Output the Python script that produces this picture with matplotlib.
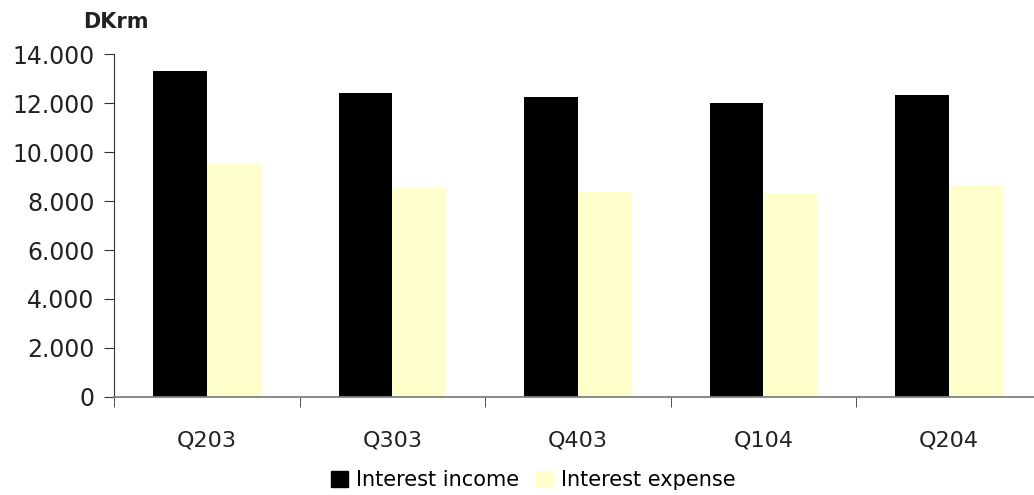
import numpy as np
import matplotlib
matplotlib.use('Agg')
import matplotlib.pyplot as plt
from matplotlib.ticker import FuncFormatter, FixedLocator
from matplotlib.patches import Patch

# 数据
quarters = ['Q203', 'Q303', 'Q403', 'Q104', 'Q204']
interest_income = [13330, 12410, 12250, 12010, 12340]
interest_expense = [9550, 8550, 8390, 8290, 8620]

plt.rcParams['font.family'] = ['DejaVu Sans']

fig = plt.figure(figsize=(10.34, 4.95), dpi=100)
ax = fig.add_axes([0.1103, 0.1986, 0.897, 0.6913])

x = np.arange(len(quarters))
w = 0.29
ax.bar(x - w / 2, interest_income, w, color='black', label='Interest income')
ax.bar(x + w / 2, interest_expense, w, color='#FFFFCC', label='Interest expense')

ax.set_xlim(-0.5, len(quarters) - 0.5)
ax.set_ylim(0, 14000)
ax.set_yticks(np.arange(0, 14001, 2000))
ax.yaxis.set_major_formatter(FuncFormatter(
    lambda v, p: '0' if v == 0 else f'{int(v):,}'.replace(',', '.')))

ax.set_xticks(x)
ax.set_xticklabels(quarters)
ax.xaxis.set_minor_locator(FixedLocator(np.arange(-0.5, len(quarters), 1.0)))
ax.tick_params(axis='x', which='major', length=0, pad=24, labelsize=16, colors='#222222')
ax.tick_params(axis='x', which='minor', length=7, direction='out', color='#333333')
ax.tick_params(axis='y', length=7, pad=7, labelsize=17, color='#333333', labelcolor='#222222')

for s in ['top', 'right']:
    ax.spines[s].set_visible(False)
ax.spines['left'].set_color('#333333')
ax.spines['bottom'].set_color('#808080')
ax.spines['bottom'].set_linewidth(1.3)

fig.text(0.080, 0.955, 'DKrm', fontsize=15, fontweight='semibold', va='center', ha='left', color='#222222')

handles = [Patch(color='black'), Patch(color='#FFFFCC')]
fig.legend(handles, ['Interest income', 'Interest expense'], loc='center',
           bbox_to_anchor=(0.516, 0.03), ncol=2, frameon=False, fontsize=15,
           handlelength=0.8, handleheight=0.8, handletextpad=0.4, columnspacing=0.8)

fig.savefig('out.png', dpi=100)
